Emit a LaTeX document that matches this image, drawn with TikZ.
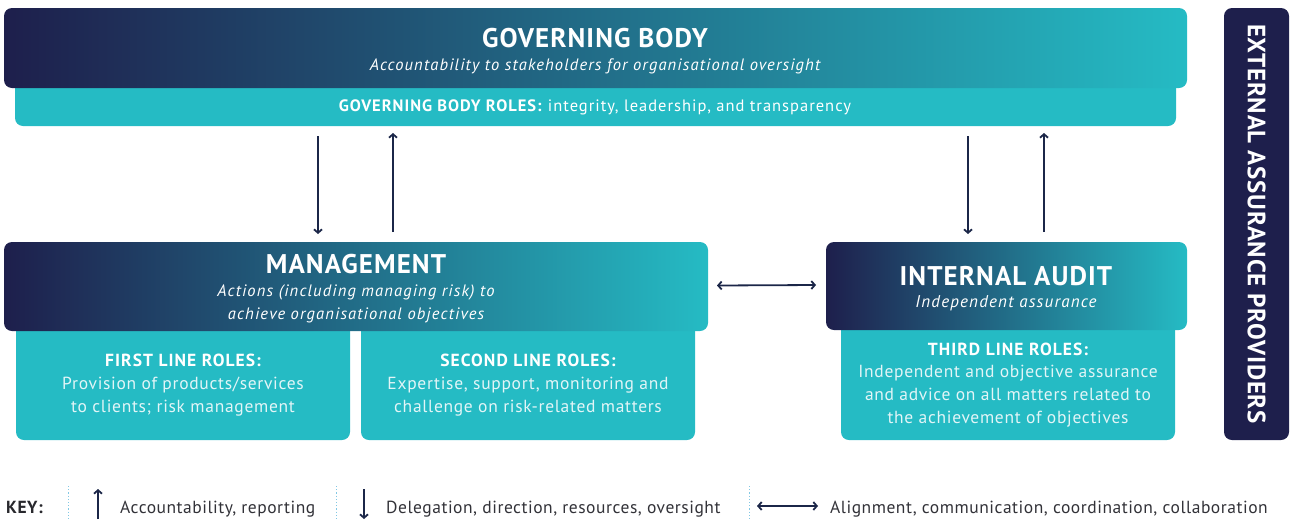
\documentclass[tikz,border=0pt]{standalone}
\usepackage{fontspec}
\setmainfont{PT Sans}
% tracked variants of the text face
\newfontfamily\ftitle[LetterSpace=4]{PT Sans}
\newfontfamily\fsub[LetterSpace=7]{PT Sans}
\newfontfamily\fhead[LetterSpace=6]{PT Sans}
\newfontfamily\frole[LetterSpace=4]{PT Sans}
\newfontfamily\fgbr[LetterSpace=6]{PT Sans}
\newfontfamily\fkey[LetterSpace=3]{PT Sans}
\newfontfamily\fext[LetterSpace=3]{PT Sans}
\usetikzlibrary{arrows.meta,calc}

\definecolor{navy}{RGB}{30,31,76}
\definecolor{midblue}{RGB}{33,86,116}
\definecolor{aqua}{RGB}{37,187,196}
\definecolor{arrowcol}{RGB}{27,38,72}
\definecolor{keytext}{RGB}{50,50,56}
\definecolor{roletext}{RGB}{226,245,247}
\definecolor{dotcol}{RGB}{130,200,228}

\newcommand{\fs}[1]{\fontsize{#1}{#1}\selectfont}

\begin{document}
\begin{tikzpicture}[x=1pt,y=-1pt,
  box/.style={inner sep=0pt, outer sep=0pt, anchor=north west, rounded corners=8pt},
  darkbox/.style={box, left color=navy, middle color=midblue, right color=aqua},
  rolebox/.style={box, fill=aqua},
  extbox/.style={box, fill=navy},
  txt/.style={inner sep=0pt, anchor=base, text=white},
  title/.style={txt, font=\ftitle\fs{27}\bfseries},
  subtitle/.style={txt, font=\fsub\fs{16.5}\itshape},
  rolehead/.style={txt, font=\fhead\fs{17.5}\bfseries},
  roleline/.style={txt, text=roletext, font=\frole\fs{17.5}},
  keyline/.style={inner sep=0pt, anchor=base west, text=keytext, font=\fkey\fs{17.5}},
  arr/.style={draw=arrowcol, line width=1.8pt, -{Straight Barb[length=3.5pt,width=8pt]}},
  dblarr/.style={draw=arrowcol, line width=1.8pt, {Straight Barb[length=3.5pt,width=8pt]}-{Straight Barb[length=3.5pt,width=8pt]}},
  keysep/.style={draw=dotcol, line width=0.9pt, dash pattern=on 1.2pt off 2pt}]

\useasboundingbox (0,0) rectangle (1290,520);

% governing body
\node[rolebox, minimum width=1161pt, minimum height=46pt] (gbr) at (15,80) {};
\node[darkbox, minimum width=1183pt, minimum height=80pt] (gb) at (4,8) {};
\node[title] (gbt) at (595,47) {GOVERNING BODY};
\node[subtitle] (gbs) at (595,70) {Accountability to stakeholders for organisational oversight};
\node[txt, font=\fgbr\fs{16.5}] (gbrt) at (595,111) {\textbf{GOVERNING BODY ROLES:} integrity, leadership, and transparency};

% management and its two lines
\node[rolebox, minimum width=334pt, minimum height=120pt] (first) at (16,320) {};
\node[rolebox, minimum width=334pt, minimum height=120pt] (second) at (361,320) {};
\node[darkbox, minimum width=704pt, minimum height=89pt] (mg) at (4,242) {};
\node[title] (mgt) at (356,273) {MANAGEMENT};
\node[subtitle] (mgs1) at (356,296) {Actions (including managing risk) to};
\node[subtitle] (mgs2) at (356,319) {achieve organisational objectives};

\node[rolehead] (f0) at (183,366) {FIRST LINE ROLES:};
\node[roleline] (f1) at (183,389) {Provision of products/services};
\node[roleline] (f2) at (183,412) {to clients; risk management};

\node[rolehead] (s0) at (528,366) {SECOND LINE ROLES:};
\node[roleline] (s1) at (528,389) {Expertise, support, monitoring and};
\node[roleline] (s2) at (528,412) {challenge on risk-related matters};

% internal audit and third line
\node[rolebox, minimum width=334pt, minimum height=120pt] (third) at (841,320) {};
\node[darkbox, minimum width=361pt, minimum height=88pt] (ia) at (826,242) {};
\node[title] (iat) at (1006,285) {INTERNAL AUDIT};
\node[subtitle, font=\fsub\fs{17}\itshape] (ias) at (1006,307) {Independent assurance};

\node[rolehead] (t0) at (1008,355) {THIRD LINE ROLES:};
\node[roleline] (t1) at (1008,377) {Independent and objective assurance};
\node[roleline] (t2) at (1008,400) {and advice on all matters related to};
\node[roleline] (t3) at (1008,423) {the achievement of objectives};

% external assurance providers
\node[extbox, minimum width=65pt, minimum height=432pt] (ext) at (1224,8) {};
\node[inner sep=0pt, text=white, font=\fext\fs{25}\bfseries, rotate=-90] (extt) at (ext.center) {EXTERNAL ASSURANCE PROVIDERS};

% connectors
\draw[arr] ([xshift=303pt,yshift=-10pt]gbr.south west) -- ([xshift=314pt,yshift=8pt]mg.north west);
\draw[arr] ([xshift=389pt,yshift=10pt]mg.north west) -- ([xshift=378pt,yshift=-7pt]gbr.south west);
\draw[arr] ([xshift=953pt,yshift=-10pt]gbr.south west) -- ([xshift=142pt,yshift=8pt]ia.north west);
\draw[arr] ([xshift=218pt,yshift=10pt]ia.north west) -- ([xshift=1029pt,yshift=-7pt]gbr.south west);
\draw[dblarr] ([xshift=9pt,yshift=1pt]mg.east) -- ([xshift=-10pt,yshift=1pt]ia.west);

% key
\node[inner sep=0pt, anchor=base west, text=keytext!80!black, font=\fkey\fs{17.5}\bfseries] (key) at (6,513) {KEY:};
\draw[keysep] (68,486) -- (68,520);
\draw[keysep] (336,486) -- (336,520);
\draw[keysep] (749,486) -- (749,520);
\coordinate (ku1) at (98,519);
\coordinate (ku2) at (98,489);
\draw[arr] (ku1) -- (ku2);
\node[keyline] (k1) at (120,513) {Accountability, reporting};
\coordinate (kd1) at (364,489);
\coordinate (kd2) at (364,519);
\draw[arr] (kd1) -- (kd2);
\node[keyline] (k2) at (386,513) {Delegation, direction, resources, oversight};
\coordinate (kb1) at (757,506);
\coordinate (kb2) at (818,506);
\draw[dblarr] (kb1) -- (kb2);
\node[keyline] (k3) at (830,513) {Alignment, communication, coordination, collaboration};
\end{tikzpicture}
\end{document}
